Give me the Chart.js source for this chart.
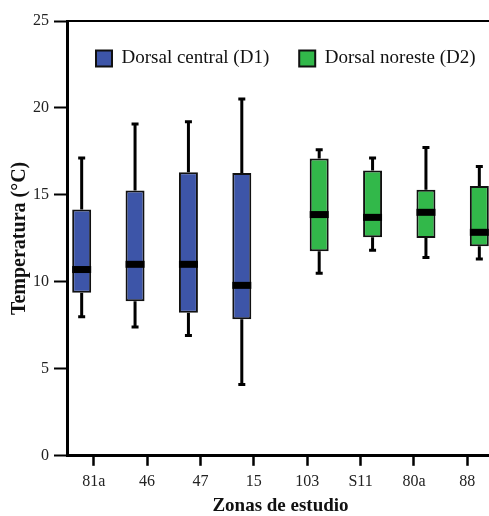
<!DOCTYPE html>
<html>
<head>
<meta charset="utf-8">
<script src="https://cdn.jsdelivr.net/npm/chart.js@4"></script>
<style>
  html, body { margin: 0; padding: 0; background: #fff; overflow: hidden; }
  #wrap { width: 494px; height: 516px; }
</style>
</head>
<body>
<div id="wrap"><canvas id="chart" width="494" height="516"></canvas></div>
<script>
// Zonas de estudio
const zonas = ['81a', '46', '47', '15', '103', 'S11', '80a', '88'];
const yTicks = [0, 5, 10, 15, 20, 25];

// Dorsal central (D1) - first four zones
const d1Min = [7.99, 7.41, 6.91, 4.10];
const d1Q1 = [9.37, 8.89, 8.22, 7.85];
const d1Med = [10.71, 11.01, 11.01, 9.80];
const d1Q3 = [14.16, 15.25, 16.30, 16.26];
const d1Max = [17.13, 19.08, 19.20, 20.52];

// Dorsal noreste (D2) - last four zones
const d2Min = [10.49, 11.82, 11.40, 11.32];
const d2Q1 = [11.76, 12.56, 12.53, 12.05];
const d2Med = [13.87, 13.71, 14.00, 12.85];
const d2Q3 = [17.10, 16.41, 15.30, 15.52];
const d2Max = [17.59, 17.13, 17.72, 16.63];

const blue = '#3d55a8';
const green = '#32b84a';

// box (q1..q3) as floating bars, the other group left empty
const d1Boxes = zonas.map((z, i) => i < 4 ? [d1Q1[i], d1Q3[i]] : null);
const d2Boxes = zonas.map((z, i) => i >= 4 ? [d2Q1[i - 4], d2Q3[i - 4]] : null);

const stats = [
  { min: d1Min, med: d1Med, max: d1Max, q1: d1Q1, q3: d1Q3, start: 0 },
  { min: d2Min, med: d2Med, max: d2Max, q1: d2Q1, q3: d2Q3, start: 4 }
];

function eachBox(chart, fn) {
  const y = chart.scales.y;
  stats.forEach((s, di) => {
    const meta = chart.getDatasetMeta(di);
    s.med.forEach((m, k) => {
      const bar = meta.data[s.start + k];
      if (!bar) return;
      fn(bar, y, s, k);
    });
  });
}

const boxPlot = {
  id: 'boxPlot',
  beforeLayout(chart) {
    // legend sits inside the plot but laid out in one row
    if (chart.legend) chart.legend.isHorizontal = () => true;
  },
  afterLayout(chart) {
    const lg = chart.legend;
    const a = chart.chartArea;
    if (!lg) return;
    lg.maxWidth = 1000;
    lg.fit();
    lg.left = a.left - 1;
    lg.right = a.right + 60;
    lg.top = a.top - 2;
  },
  beforeDatasetsDraw(chart) {
    const ctx = chart.ctx;
    ctx.save();
    ctx.strokeStyle = '#000';
    ctx.lineWidth = 3;
    eachBox(chart, (bar, y, s, k) => {
      const x = bar.x;
      const top = y.getPixelForValue(s.max[k]);
      const bot = y.getPixelForValue(s.min[k]);
      ctx.beginPath();
      ctx.moveTo(x, top);
      ctx.lineTo(x, y.getPixelForValue(s.q3[k]));
      ctx.moveTo(x, y.getPixelForValue(s.q1[k]));
      ctx.lineTo(x, bot);
      ctx.moveTo(x - 3.5, top);
      ctx.lineTo(x + 3.5, top);
      ctx.moveTo(x - 3.5, bot);
      ctx.lineTo(x + 3.5, bot);
      ctx.stroke();
    });
    ctx.restore();
  },
  afterDatasetsDraw(chart) {
    const ctx = chart.ctx;
    ctx.save();
    ctx.fillStyle = '#000';
    eachBox(chart, (bar, y, s, k) => {
      const py = y.getPixelForValue(s.med[k]);
      ctx.fillRect(bar.x - bar.width / 2, py - 3.5, bar.width, 7);
    });
    ctx.restore();
  },
  afterDraw(chart) {
    // top frame line
    const a = chart.chartArea;
    const ctx = chart.ctx;
    ctx.save();
    ctx.strokeStyle = '#000';
    ctx.lineWidth = 2;
    ctx.beginPath();
    ctx.moveTo(a.left, a.top);
    ctx.lineTo(a.right, a.top);
    ctx.stroke();
    ctx.restore();
  }
};

const serif = "'Liberation Serif', 'Times New Roman', serif";

new Chart(document.getElementById('chart'), {
  type: 'bar',
  data: {
    labels: zonas,
    datasets: [
      {
        label: 'Dorsal central (D1)',
        data: d1Boxes,
        backgroundColor: blue,
        borderColor: '#111',
        borderWidth: 2,
        borderSkipped: false
      },
      {
        label: 'Dorsal noreste (D2)',
        data: d2Boxes,
        backgroundColor: green,
        borderColor: '#111',
        borderWidth: 2,
        borderSkipped: false
      }
    ]
  },
  options: {
    responsive: false,
    animation: false,
    categoryPercentage: 0.9,
    barPercentage: 0.79,
    layout: { padding: { top: 21, left: 11, right: 0, bottom: 0 } },
    plugins: {
      tooltip: { enabled: false },
      legend: {
        position: 'chartArea',
        align: 'start',
        labels: {
          boxWidth: 16,
          boxHeight: 16,
          padding: 30,
          color: '#111',
          font: { family: serif, size: 19 }
        }
      }
    },
    scales: {
      x: {
        offset: true,
        grid: { drawOnChartArea: false, drawTicks: true, tickLength: 10, tickWidth: 2.5, tickColor: '#000', offset: false },
        border: { width: 3, color: '#000' },
        ticks: { color: '#222', font: { family: serif, size: 16 }, padding: 6, maxRotation: 0 },
        title: {
          display: true,
          text: 'Zonas de estudio',
          color: '#111',
          font: { family: serif, size: 19, weight: 'bold', lineHeight: 1 },
          padding: { top: 0, bottom: 0 }
        }
      },
      y: {
        min: 0,
        max: 25,
        afterBuildTicks(scale) {
          scale.ticks = yTicks.map(v => ({ value: v }));
        },
        grid: { drawOnChartArea: false, drawTicks: true, tickLength: 13, tickWidth: 2, tickColor: '#000' },
        border: { width: 3, color: '#000' },
        ticks: { color: '#222', font: { family: serif, size: 16 }, padding: 5 },
        title: {
          display: true,
          text: 'Temperatura (°C)',
          color: '#111',
          font: { family: serif, size: 20, weight: 'bold', lineHeight: 0.85 },
          padding: { top: 0, bottom: 0 }
        }
      }
    }
  },
  plugins: [boxPlot]
});
</script>
</body>
</html>
